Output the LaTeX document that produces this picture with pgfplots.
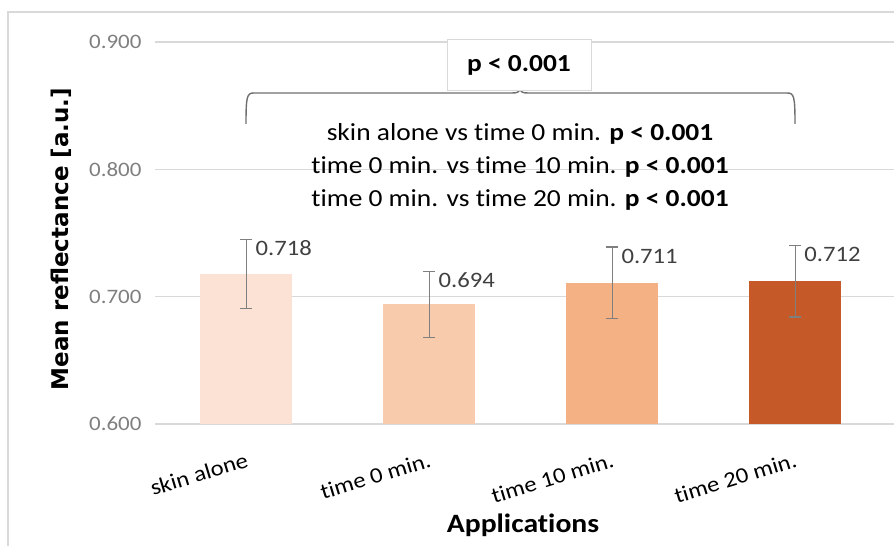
\documentclass[border=0pt]{standalone}
\usepackage{pgfplots}
\pgfplotsset{compat=1.18}
\usepackage{fontspec}
\setmainfont{Carlito}[FakeStretch=1.12, Ligatures={NoCommon}]
\newfontfamily\dejavu{DejaVu Sans}
\definecolor{barA}{HTML}{FBE2D5}
\definecolor{barB}{HTML}{F8CBAD}
\definecolor{barC}{HTML}{F4B183}
\definecolor{barD}{HTML}{C55A28}
\definecolor{gridc}{HTML}{D9D9D9}
\definecolor{tickc}{HTML}{7F7F7F}
\definecolor{labc}{HTML}{404040}
\definecolor{errc}{HTML}{7F7F7F}
\definecolor{bracec}{HTML}{6F6F6F}
\begin{document}
\begin{tikzpicture}[x=1pt,y=1pt]
\useasboundingbox (0,0) rectangle (894,546);
\draw[gridc, line width=1.2pt] (8,-10) -- (8,534) -- (910,534);
\begin{axis}[
  at={(155pt,122pt)}, anchor=south west,
  scale only axis, width=739pt, height=382pt,
  xmin=-0.5, xmax=3.54, ymin=0.6, ymax=0.9,
  ytick={0.6,0.7,0.8,0.9},
  xtick={0,1,2,3},
  xticklabels={skin alone, time 0 min., time 10 min., time 20 min.},
  axis line style={draw=none},
  tick style={draw=none},
  ymajorgrids, major grid style={gridc, line width=1.3pt},
  /pgf/number format/assume math mode=true,
  yticklabel={\pgfmathprintnumber[fixed,fixed zerofill,precision=3]{\tick}},
  yticklabel style={font=\fontsize{20.5}{24}\selectfont, text=tickc, anchor=east, xshift=-10pt},
  xticklabel style={font=\fontsize{22}{26}\selectfont, xshift=4pt, yshift=-30pt, rotate=17, anchor=east},
  ybar, bar width=92pt, bar shift=0pt,
  error bars/y dir=both, error bars/y explicit,
  error bars/error bar style={errc, line width=1.1pt},
  error bars/error mark options={errc, line width=1.1pt, rotate=90, mark size=6pt},
  clip=false,
]
\addplot[fill=barA, draw=none] coordinates {(0,0.718) +- (0,0.027)};
\addplot[fill=barB, draw=none] coordinates {(1,0.694) +- (0,0.026)};
\addplot[fill=barC, draw=none] coordinates {(2,0.711) +- (0,0.028)};
\addplot[fill=barD, draw=none] coordinates {(3,0.712) +- (0,0.028)};
\begin{scope}[every node/.style={font=\fontsize{22}{26}\selectfont, text=labc, anchor=west, xshift=9pt, yshift=-9pt, inner sep=0pt}]
\node at (axis cs:0,0.745) {0.718};
\node at (axis cs:1,0.720) {0.694};
\node at (axis cs:2,0.739) {0.711};
\node at (axis cs:3,0.740) {0.712};
\end{scope}
\end{axis}
% brace
\draw[bracec, line width=1.4pt]
  (246,546-124) .. controls (246,546-96) and (247,546-93) .. (254,546-93)
  -- (512,546-93) .. controls (517,546-93) and (519,546-92) .. (520,546-90)
  .. controls (521,546-92) and (523,546-93) .. (528,546-93)
  -- (787,546-93) .. controls (794,546-93) and (795,546-96) .. (795,546-124);
\node[draw=gridc, fill=white, line width=1pt, minimum width=144pt, minimum height=51pt, inner sep=0pt,
      font=\fontsize{24.5}{28}\selectfont\bfseries] at (519,546-65.5) {p < 0.001};
\node[align=center, font=\fontsize{24.5}{33}\selectfont, inner sep=0pt, anchor=north] at (520,546-123) {%
  skin alone vs time 0 min. \textbf{p < 0.001}\\
  time 0 min. vs time 10 min. \textbf{p < 0.001}\\
  time 0 min. vs time 20 min. \textbf{p < 0.001}};
\node[font=\fontsize{26.5}{30}\selectfont\bfseries, inner sep=0pt] at (523,546-525) {Applications};
\node[rotate=90, font=\dejavu\fontsize{23}{27}\selectfont\bfseries, inner sep=0pt] at (61,546-239) {Mean reflectance [a.u.]};
\end{tikzpicture}
\end{document}
